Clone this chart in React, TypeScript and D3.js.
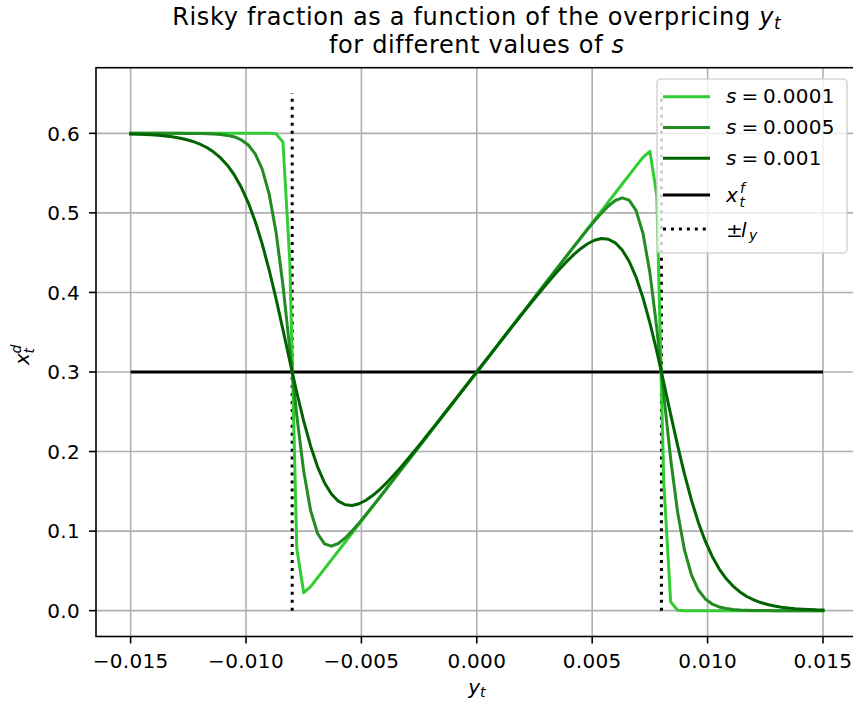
import React from "react";
import * as d3 from "d3";

// ---- data ----
const yGrid = [
  -0.015, -0.0147, -0.0144, -0.0141, -0.0138, -0.0135, -0.0132, -0.0129, -0.0126, -0.0123,
  -0.012, -0.0117, -0.0114, -0.0111, -0.0108, -0.0105, -0.0102, -0.0099, -0.0096, -0.0093,
  -0.009, -0.0087, -0.0084, -0.0081, -0.0078, -0.0075, -0.0072, -0.0069, -0.0066, -0.0063,
  -0.006, -0.0057, -0.0054, -0.0051, -0.0048, -0.0045, -0.0042, -0.0039, -0.0036, -0.0033,
  -0.003, -0.0027, -0.0024, -0.0021, -0.0018, -0.0015, -0.0012, -0.0009, -0.0006, -0.0003,
  0,
  0.0003, 0.0006, 0.0009, 0.0012, 0.0015, 0.0018, 0.0021, 0.0024, 0.0027, 0.003,
  0.0033, 0.0036, 0.0039, 0.0042, 0.0045, 0.0048, 0.0051, 0.0054, 0.0057, 0.006,
  0.0063, 0.0066, 0.0069, 0.0072, 0.0075, 0.0078, 0.0081, 0.0084, 0.0087, 0.009,
  0.0093, 0.0096, 0.0099, 0.0102, 0.0105, 0.0108, 0.0111, 0.0114, 0.0117, 0.012,
  0.0123, 0.0126, 0.0129, 0.0132, 0.0135, 0.0138, 0.0141, 0.0144, 0.0147, 0.015,
];

const xS0001 = [
  0.6, 0.6, 0.6, 0.6, 0.6, 0.6, 0.6, 0.6, 0.6, 0.6,
  0.6, 0.6, 0.6, 0.6, 0.6, 0.6, 0.6, 0.6, 0.6, 0.6,
  0.6, 0.5994, 0.5889, 0.4376, 0.0781, 0.0226, 0.0302, 0.0413, 0.0525, 0.0638,
  0.075, 0.0863, 0.0975, 0.1088, 0.12, 0.1313, 0.1425, 0.1538, 0.165, 0.1763,
  0.1875, 0.1988, 0.21, 0.2213, 0.2325, 0.2438, 0.255, 0.2663, 0.2775, 0.2888,
  0.3,
  0.3113, 0.3225, 0.3338, 0.345, 0.3563, 0.3675, 0.3788, 0.39, 0.4013, 0.4125,
  0.4238, 0.435, 0.4463, 0.4575, 0.4688, 0.48, 0.4913, 0.5025, 0.5138, 0.525,
  0.5363, 0.5475, 0.5587, 0.5698, 0.5774, 0.5219, 0.1624, 0.0111, 0.0006, 0,
  0, 0, 0, 0, 0, 0, 0, 0, 0, 0,
  0, 0, 0, 0, 0, 0, 0, 0, 0, 0,
];

const xS0005 = [
  0.6, 0.6, 0.6, 0.6, 0.6, 0.6, 0.6, 0.6, 0.5999, 0.5999,
  0.5997, 0.5995, 0.5992, 0.5985, 0.5974, 0.5954, 0.5917, 0.5853, 0.5741, 0.5551,
  0.524, 0.4761, 0.4093, 0.3282, 0.2453, 0.1751, 0.1257, 0.097, 0.0839, 0.0811,
  0.0844, 0.0914, 0.1003, 0.1102, 0.1208, 0.1317, 0.1427, 0.1539, 0.1651, 0.1763,
  0.1875, 0.1988, 0.21, 0.2213, 0.2325, 0.2437, 0.255, 0.2662, 0.2775, 0.2887,
  0.3,
  0.3113, 0.3225, 0.3338, 0.345, 0.3563, 0.3675, 0.3787, 0.39, 0.4012, 0.4125,
  0.4237, 0.4349, 0.4461, 0.4573, 0.4683, 0.4792, 0.4898, 0.4997, 0.5086, 0.5156,
  0.5189, 0.5161, 0.503, 0.4743, 0.4249, 0.3547, 0.2718, 0.1907, 0.1239, 0.076,
  0.0449, 0.0259, 0.0147, 0.0083, 0.0046, 0.0026, 0.0015, 0.0008, 0.0005, 0.0003,
  0.0001, 0.0001, 0, 0, 0, 0, 0, 0, 0, 0,
];

const xS001 = [
  0.5992, 0.599, 0.5986, 0.5981, 0.5975, 0.5967, 0.5956, 0.5942, 0.5923, 0.5898,
  0.5865, 0.5822, 0.5765, 0.5691, 0.5596, 0.5474, 0.5319, 0.5127, 0.4891, 0.4611,
  0.4285, 0.3922, 0.3532, 0.3132, 0.2742, 0.2382, 0.2067, 0.1808, 0.1608, 0.1466,
  0.1376, 0.1331, 0.1322, 0.1344, 0.1388, 0.145, 0.1525, 0.161, 0.1703, 0.1801,
  0.1903, 0.2007, 0.2114, 0.2223, 0.2332, 0.2443, 0.2554, 0.2665, 0.2777, 0.2889,
  0.3,
  0.3111, 0.3223, 0.3335, 0.3446, 0.3557, 0.3668, 0.3777, 0.3886, 0.3993, 0.4097,
  0.4199, 0.4297, 0.439, 0.4475, 0.455, 0.4612, 0.4656, 0.4678, 0.4669, 0.4624,
  0.4534, 0.4392, 0.4192, 0.3933, 0.3618, 0.3258, 0.2868, 0.2468, 0.2078, 0.1715,
  0.1389, 0.1109, 0.0873, 0.0681, 0.0526, 0.0404, 0.0309, 0.0235, 0.0178, 0.0135,
  0.0102, 0.0077, 0.0058, 0.0044, 0.0033, 0.0025, 0.0019, 0.0014, 0.001, 0.0008,
];

const seriesNames = ["0.0001", "0.0005", "0.001"];
const seriesValues = [xS0001, xS0005, xS001];
const seriesColors = ["#32cd32", "#228b22", "#006400"];

const xFundamental = 0.3;
const xFundamentalRange = [-0.015, 0.015];
const lY = 0.008;
const lYRange = [0, 0.65];

const xTicks = [-0.015, -0.01, -0.005, 0, 0.005, 0.01, 0.015];
const xTickLabels = ["\u22120.015", "\u22120.010", "\u22120.005", "0.000", "0.005", "0.010", "0.015"];
const yTicks = [0, 0.1, 0.2, 0.3, 0.4, 0.5, 0.6];
const yTickLabels = ["0.0", "0.1", "0.2", "0.3", "0.4", "0.5", "0.6"];

// ---- layout ----
const W = 853;
const H = 704;
const left = 96.0;
const right = 857.6;
const top = 67.7;
const bottom = 636.5;
const FONT = "'DejaVu Sans', sans-serif";

export default function App() {
  const x = d3.scaleLinear().domain([-0.0165, 0.0165]).range([left, right]);
  const y = d3.scaleLinear().domain([-0.0325, 0.6825]).range([bottom, top]);

  const line = d3
    .line<[number, number]>()
    .x((d) => x(d[0]))
    .y((d) => y(d[1]));

  const series = seriesValues.map((vals) =>
    yGrid.map((g, i) => [g, vals[i]] as [number, number])
  );

  const legX0 = 657;
  const legY0 = 79;
  const handleX0 = 663;
  const handleX1 = 710;
  const textX = 726;
  const handleYs = [96.7, 127.5, 158.3, 195, 229];
  const baseYs = [103, 134, 165, 202, 236.7];

  return (
    <svg
      width={W}
      height={H}
      style={{ position: "absolute", left: 0, top: 0, background: "#fff" }}
      fontFamily={FONT}
    >
      <rect x={0} y={0} width={W} height={H} fill="#fff" />
      {/* grid */}
      {xTicks.map((t, i) => (
        <line key={"gx" + i} x1={x(t)} x2={x(t)} y1={top} y2={bottom} stroke="#b0b0b0" strokeWidth={1.6} />
      ))}
      {yTicks.map((t, i) => (
        <line key={"gy" + i} x1={left} x2={right} y1={y(t)} y2={y(t)} stroke="#b0b0b0" strokeWidth={1.6} />
      ))}

      {/* fundamental line */}
      <path
        d={line([
          [xFundamentalRange[0], xFundamental],
          [xFundamentalRange[1], xFundamental],
        ]) || ""}
        stroke="#000"
        strokeWidth={3}
        fill="none"
      />
      {/* +/- l_y dotted */}
      {[-lY, lY].map((v, i) => (
        <path
          key={"ly" + i}
          d={line([
            [v, lYRange[0]],
            [v, lYRange[1]],
          ]) || ""}
          stroke="#000"
          strokeWidth={3}
          strokeDasharray="3 4.95"
          fill="none"
        />
      ))}

      {/* curves */}
      {series.map((s, i) => (
        <path
          key={"s" + i}
          d={line(s) || ""}
          stroke={seriesColors[i]}
          strokeWidth={3}
          fill="none"
          strokeLinejoin="round"
          strokeLinecap="square"
        />
      ))}

      {/* spines */}
      <rect x={left} y={top} width={right - left} height={bottom - top} fill="none" stroke="#000" strokeWidth={1.6} />

      {/* x ticks */}
      {xTicks.map((t, i) => (
        <g key={"xt" + i}>
          <line x1={x(t)} x2={x(t)} y1={bottom} y2={bottom + 7} stroke="#000" strokeWidth={1.6} />
          <text x={x(t)} y={668} fontSize={20} textAnchor="middle" fill="#000" letterSpacing={0.3}>
            {xTickLabels[i]}
          </text>
        </g>
      ))}
      {/* y ticks */}
      {yTicks.map((t, i) => (
        <g key={"yt" + i}>
          <line x1={left - 7} x2={left} y1={y(t)} y2={y(t)} stroke="#000" strokeWidth={1.6} />
          <text x={80} y={y(t) + 7.3} fontSize={20} textAnchor="end" fill="#000" letterSpacing={0.3}>
            {yTickLabels[i]}
          </text>
        </g>
      ))}

      {/* x label */}
      <text x={476.8} y={694} fontSize={20} textAnchor="middle">
        <tspan fontStyle="italic">y</tspan>
        <tspan fontStyle="italic" fontSize={14} dy={3}>t</tspan>
      </text>

      {/* y label */}
      <g transform="translate(29,365) rotate(-90)">
        <text fontSize={20} fontStyle="italic">
          <tspan x={0} y={0}>x</tspan>
          <tspan x={11.5} y={-8.5} fontSize={14}>d</tspan>
          <tspan x={11.5} y={5} fontSize={14}>t</tspan>
        </text>
      </g>

      {/* title */}
      <text x={476.8} y={25} fontSize={24} textAnchor="middle" letterSpacing={0.68}>
        <tspan>Risky fraction as a function of the overpricing </tspan>
        <tspan fontStyle="italic">y</tspan>
        <tspan fontStyle="italic" fontSize={17} dy={4}>t</tspan>
      </text>
      <text x={476.8} y={53} fontSize={24} textAnchor="middle" letterSpacing={0.65}>
        <tspan>for different values of </tspan>
        <tspan fontStyle="italic">s</tspan>
      </text>

      {/* legend */}
      <rect
        x={legX0}
        y={legY0}
        width={847 - legX0}
        height={253 - legY0}
        rx={4}
        fill="#fff"
        fillOpacity={0.8}
        stroke="#cccccc"
        strokeOpacity={0.8}
        strokeWidth={1.6}
      />
      {seriesNames.map((n, i) => (
        <g key={"lg" + i}>
          <line x1={handleX0} x2={handleX1} y1={handleYs[i]} y2={handleYs[i]} stroke={seriesColors[i]} strokeWidth={3} />
          <text y={baseYs[i]} fontSize={20}>
            <tspan x={textX} fontStyle="italic">s</tspan>
            <tspan x={741.5}>=</tspan>
            <tspan x={763} letterSpacing={0.3}>{n}</tspan>
          </text>
        </g>
      ))}
      <line x1={handleX0} x2={handleX1} y1={handleYs[3]} y2={handleYs[3]} stroke="#000" strokeWidth={3} />
      <text fontSize={20} fontStyle="italic">
        <tspan x={textX} y={baseYs[3]}>x</tspan>
        <tspan x={740} y={192.5} fontSize={14}>f</tspan>
        <tspan x={739.5} y={206.7} fontSize={14}>t</tspan>
      </text>

      <line x1={handleX0} x2={handleX1} y1={handleYs[4]} y2={handleYs[4]} stroke="#000" strokeWidth={3} strokeDasharray="3 4.95" />
      <text fontSize={20}>
        <tspan x={textX} y={baseYs[4]}>±</tspan>
        <tspan x={741} y={baseYs[4]} fontStyle="italic">l</tspan>
        <tspan x={749} y={240} fontSize={14} fontStyle="italic">y</tspan>
      </text>
    </svg>
  );
}
